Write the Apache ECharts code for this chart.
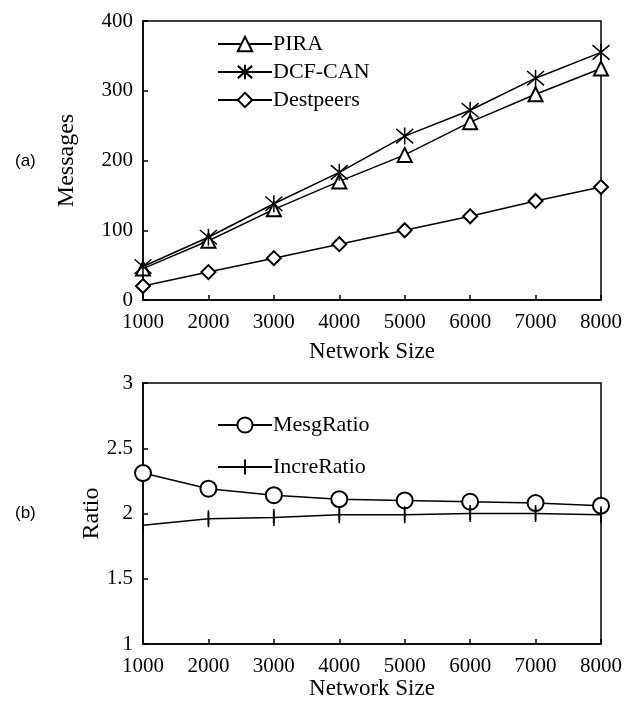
<!DOCTYPE html>
<html>
<head>
<meta charset="utf-8">
<script src="https://cdn.jsdelivr.net/npm/echarts@6/dist/echarts.min.js"></script>
<style>
  html, body { margin: 0; padding: 0; background: #fff; }
  #main { width: 637px; height: 701px; }
</style>
</head>
<body>
<div id="main"></div>
<script>
// data
const sizes = [1000, 2000, 3000, 4000, 5000, 6000, 7000, 8000];
const pira = [45, 85, 130, 170, 208, 255, 295, 332];
const dcfCan = [48, 90, 138, 183, 235, 272, 318, 355];
const destpeers = [20, 40, 60, 80, 100, 120, 142, 162];
const mesgRatio = [2.31, 2.19, 2.14, 2.11, 2.10, 2.09, 2.08, 2.06];
const increRatio = [1.91, 1.96, 1.97, 1.99, 1.99, 2.0, 2.0, 1.99];

const pairs = (ys) => sizes.map((x, i) => [x, ys[i]]);

const serif = 'Liberation Serif';
const asterisk = 'path://M0,-10 L0,10 M-8.5,-8.5 L8.5,8.5 M-8.5,8.5 L8.5,-8.5';
const tick = 'path://M0,-10 L0,10 M-0.01,0 L0.01,0';

// axes
const xAxisBase = {
  type: 'value',
  min: 1000,
  max: 8000,
  interval: 1000,
  splitLine: { show: false },
  axisLine: { lineStyle: { color: '#000', width: 1.5 } },
  axisTick: { inside: true, length: 5, lineStyle: { color: '#000', width: 1.5 } },
  axisLabel: { color: '#000', fontFamily: serif, fontSize: 21, margin: 12, formatter: (v) => String(v) },
  name: 'Network Size',
  nameLocation: 'middle',
  nameMoveOverlap: false,
  nameTextStyle: { color: '#000', fontFamily: serif, fontSize: 23 },
};
const yAxisBase = {
  type: 'value',
  splitLine: { show: false },
  axisLine: { show: true, lineStyle: { color: '#000', width: 1.5 } },
  axisTick: { inside: true, length: 5, lineStyle: { color: '#000', width: 1.5 } },
  axisLabel: { color: '#000', fontFamily: serif, fontSize: 21, margin: 10 },
  nameLocation: 'middle',
  nameRotate: 90,
  nameMoveOverlap: false,
  nameTextStyle: { color: '#000', fontFamily: serif, fontSize: 24 },
};

const lineBase = {
  type: 'line',
  color: '#000',
  lineStyle: { color: '#000', width: 1.5 },
  animation: false,
};
const legendText = { fontFamily: serif, fontSize: 22, color: '#000', padding: [0, 0, 0, -4] };

const option = {
  backgroundColor: '#fff',
  animation: false,
  title: [
    { text: '(a)', left: 10, top: 148, textStyle: { fontFamily: 'Liberation Sans', fontSize: 17, fontWeight: 'normal', color: '#000' } },
    { text: '(b)', left: 10, top: 500, textStyle: { fontFamily: 'Liberation Sans', fontSize: 17, fontWeight: 'normal', color: '#000' } },
  ],
  grid: [
    { left: 143, right: 36, top: 21, height: 279, show: true, borderColor: '#000', borderWidth: 1.5, backgroundColor: 'transparent' },
    { left: 143, right: 36, top: 383, height: 262, show: true, borderColor: '#000', borderWidth: 1.5, backgroundColor: 'transparent' },
  ],
  legend: [
    {
      left: 212, top: 28, orient: 'vertical', itemGap: 6, itemWidth: 54, itemHeight: 18,
      textStyle: legendText,
      data: ['PIRA', 'DCF-CAN', 'Destpeers'],
    },
    {
      left: 212, top: 409, orient: 'vertical', itemGap: 20, itemWidth: 54, itemHeight: 19,
      textStyle: legendText,
      data: ['MesgRatio', 'IncreRatio'],
    },
  ],
  xAxis: [
    { ...xAxisBase, gridIndex: 0, nameGap: 40 },
    { ...xAxisBase, gridIndex: 1, nameGap: 33 },
  ],
  yAxis: [
    { ...yAxisBase, gridIndex: 0, min: 0, max: 400, interval: 100, name: 'Messages', nameGap: 64 },
    { ...yAxisBase, gridIndex: 1, min: 1, max: 3, interval: 0.5, name: 'Ratio', nameGap: 39 },
  ],
  series: [
    { ...lineBase, name: 'PIRA', xAxisIndex: 0, yAxisIndex: 0, data: pairs(pira),
      symbol: 'emptyTriangle', symbolSize: 14, itemStyle: { color: '#000', borderColor: '#000', borderWidth: 1.5 } },
    { ...lineBase, name: 'DCF-CAN', xAxisIndex: 0, yAxisIndex: 0, data: pairs(dcfCan),
      symbol: asterisk, symbolSize: 17, itemStyle: { color: 'transparent', borderColor: '#000', borderWidth: 1.5 } },
    { ...lineBase, name: 'Destpeers', xAxisIndex: 0, yAxisIndex: 0, data: pairs(destpeers),
      symbol: 'emptyDiamond', symbolSize: 14, itemStyle: { color: '#000', borderColor: '#000', borderWidth: 1.5 } },
    { ...lineBase, name: 'MesgRatio', xAxisIndex: 1, yAxisIndex: 1, data: pairs(mesgRatio),
      symbol: 'emptyCircle', symbolSize: 16, itemStyle: { color: '#000', borderColor: '#000', borderWidth: 1.5 } },
    { ...lineBase, name: 'IncreRatio', xAxisIndex: 1, yAxisIndex: 1, data: pairs(increRatio),
      symbol: tick, symbolSize: [2, 17], symbolKeepAspect: false,
      itemStyle: { color: 'transparent', borderColor: '#000', borderWidth: 1.5 } },
  ],
};

const chart = echarts.init(document.getElementById('main'));
chart.setOption(option);
</script>
</body>
</html>
